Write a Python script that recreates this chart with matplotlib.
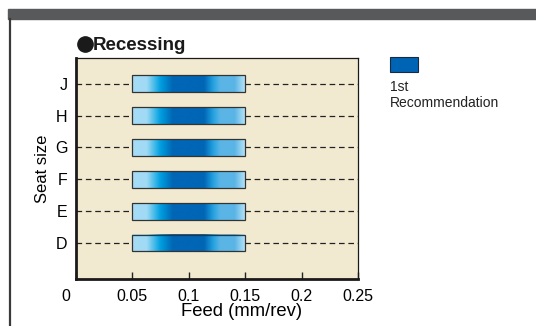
import matplotlib
matplotlib.use('Agg')
import matplotlib.pyplot as plt
import numpy as np
from matplotlib.colors import LinearSegmentedColormap
from matplotlib.patches import Rectangle
from matplotlib.transforms import ScaledTranslation

plt.rcParams['font.family'] = ['Liberation Sans', 'DejaVu Sans']

# data
seat_sizes = ['D', 'E', 'F', 'G', 'H', 'J']
feed_min = [0.05, 0.05, 0.05, 0.05, 0.05, 0.05]
feed_max = [0.15, 0.15, 0.15, 0.15, 0.15, 0.15]
x_ticks = [0, 0.05, 0.1, 0.15, 0.2, 0.25]
x_tick_labels = ['0', '0.05', '0.1', '0.15', '0.2', '0.25']

# horizontal gradient used in the bars
grad = LinearSegmentedColormap.from_list('rec', [
    (0.00, '#a6dcf6'), (0.13, '#a0daf5'), (0.25, '#00a0e0'),
    (0.36, '#0066b5'), (0.64, '#0066b5'), (0.72, '#24a2e0'),
    (0.78, '#5ab5e6'), (0.91, '#5ab5e6'), (1.00, '#b4e2f7'),
])

W, H = 536, 326
fig = plt.figure(figsize=(W / 100, H / 100), dpi=100)

# page decoration: dark header strip and left border line
fig.patches.append(Rectangle((8 / W, 1 - 19 / H), 1, 10 / H,
                             transform=fig.transFigure, color='#58595b', zorder=0))
fig.lines.append(plt.Line2D([9.5 / W, 9.5 / W], [0, 1 - 19 / H],
                            transform=fig.transFigure, color='#3a3a3a', lw=1.6))

ax = fig.add_axes([76 / W, 1 - 279 / H, 282 / W, 221 / H])
ax.set_facecolor('#f1ead0')

ypos = np.arange(len(seat_sizes))
bar_h = 0.53
for y, lo, hi in zip(ypos, feed_min, feed_max):
    ax.plot([0, 0.25], [y, y], color='#222222', lw=0.9, ls=(0, (4.5, 3)), zorder=1)
    ax.imshow(np.linspace(0, 1, 256).reshape(1, -1), cmap=grad, aspect='auto',
              extent=[lo, hi, y - bar_h / 2, y + bar_h / 2], zorder=2)
    ax.add_patch(Rectangle((lo, y - bar_h / 2), hi - lo, bar_h, fill=False,
                           ec='#333333', lw=0.9, zorder=3))

ax.set_xlim(0, 0.25)
ax.set_ylim(-1.13, 5.81)
ax.set_xticks(x_ticks)
ax.set_xticklabels(x_tick_labels, fontsize=11.5)
ax.set_yticks(ypos)
ax.set_yticklabels(seat_sizes, fontsize=11.5)
ax.tick_params(axis='x', direction='in', length=5, width=1, color='#222222', pad=7)
ax.tick_params(axis='y', length=0, pad=6)
# first x label sits a bit left of the axis
lab0 = ax.get_xticklabels()[0]
lab0.set_transform(lab0.get_transform() + ScaledTranslation(-10 / 100, 0, fig.dpi_scale_trans))

for s in ['left', 'bottom']:
    ax.spines[s].set_linewidth(2)
for s in ['top', 'right']:
    ax.spines[s].set_linewidth(0.9)
for s in ax.spines.values():
    s.set_color('#1a1a1a')

ax.set_xlabel('Feed (mm/rev)', fontsize=13.3, va='center')
ax.xaxis.set_label_coords((242 - 76) / 282, -(312 - 279) / 221)
ax.set_ylabel('Seat size', fontsize=12, labelpad=4)

# title with big bullet
fig.lines.append(plt.Line2D([84.5 / W], [1 - 44 / H], transform=fig.transFigure,
                            marker='o', ms=11, color='#1a1a1a', ls='none'))
fig.text(93 / W, 1 - 50 / H, 'Recessing', fontsize=13.5, fontweight='bold',
         va='baseline', ha='left', color='#1a1a1a')

# legend
fig.patches.append(Rectangle((390 / W, 1 - 72 / H), 28 / W, 15 / H,
                             transform=fig.transFigure, fc='#0064b4', ec='#1a2a40', lw=0.8))
fig.text(390 / W, 1 - 87 / H, '1st', fontsize=10, va='center', ha='left', color='#222222')
fig.text(390 / W, 1 - 103 / H, 'Recommendation', fontsize=10, va='center', ha='left',
         color='#222222')

fig.savefig('out.png', dpi=100)
